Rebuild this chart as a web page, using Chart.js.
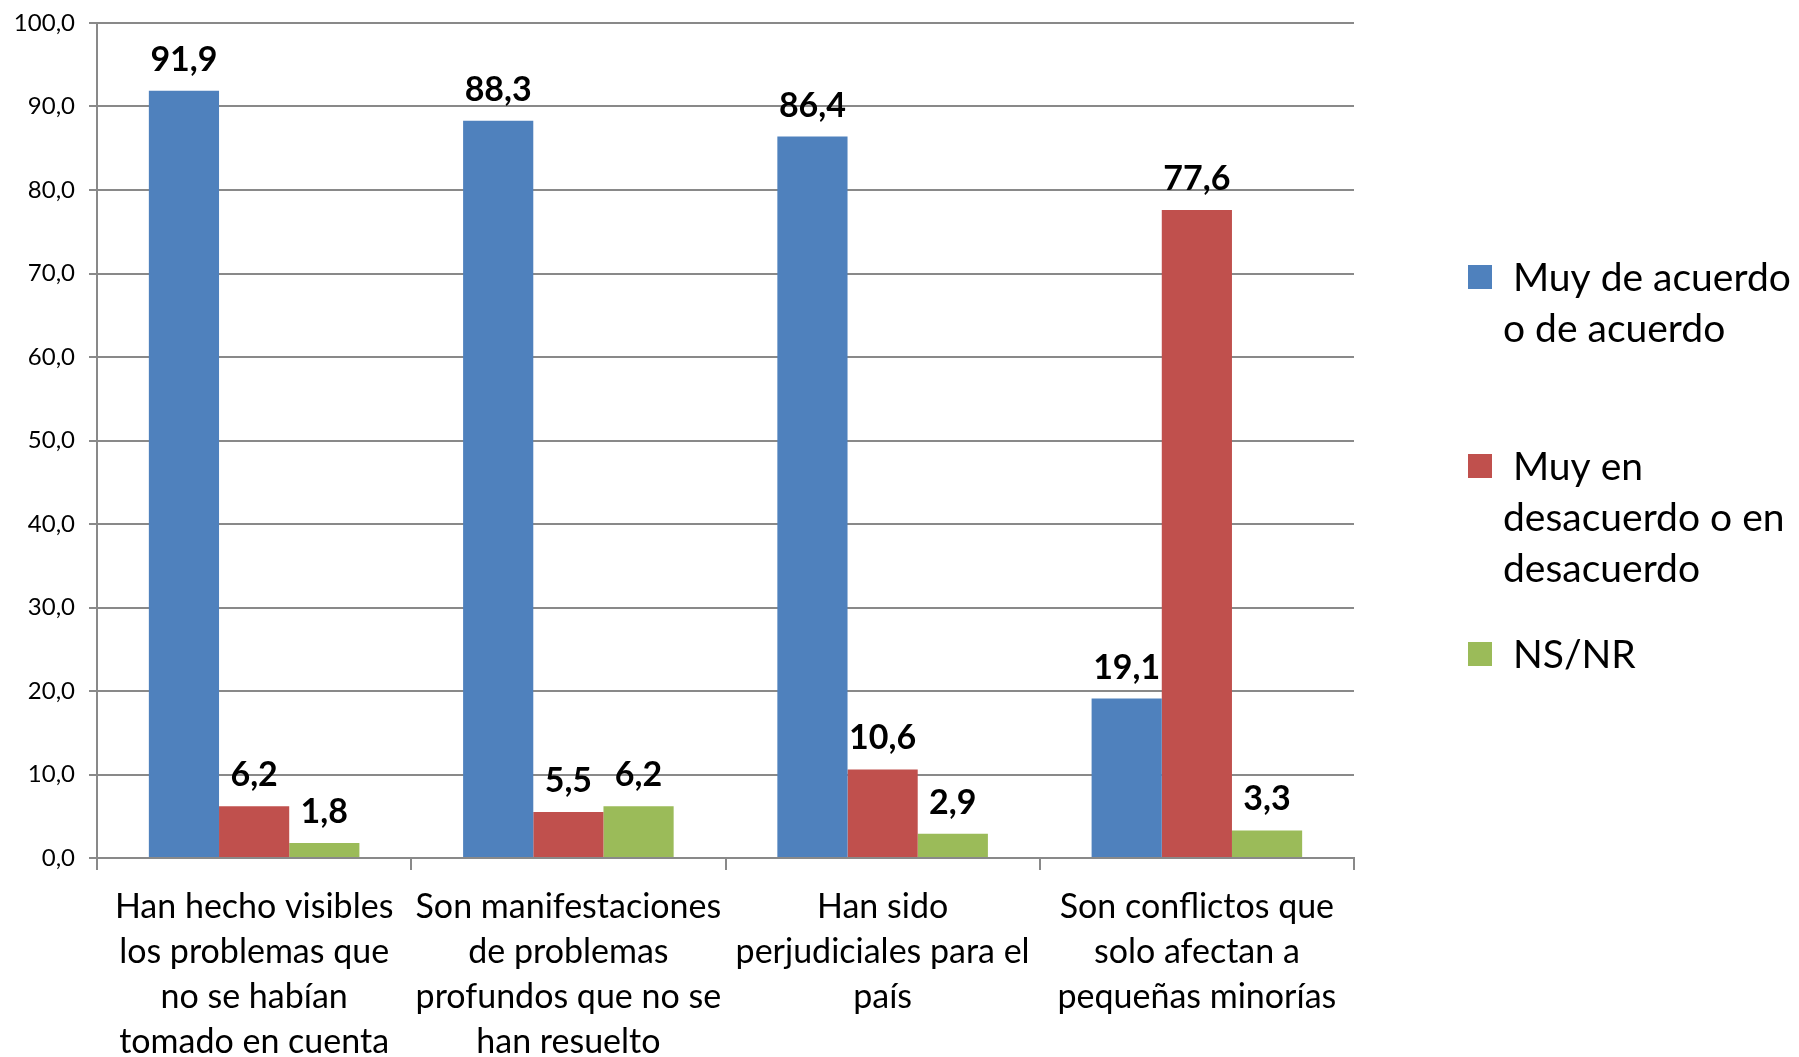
<!DOCTYPE html>
<html>
<head>
<meta charset="utf-8">
<script src="https://cdn.jsdelivr.net/npm/chart.js@4/dist/chart.umd.min.js"></script>
<style>
  body { margin: 0; background: #fff; }
  #wrap { width: 1799px; height: 1057px; }
</style>
</head>
<body>
<div id="wrap"><canvas id="barChart" width="1799" height="1057"></canvas></div>
<script>
const categories = [
  ["Han hecho visibles", "los problemas que", "no se habían", "tomado en cuenta"],
  ["Son manifestaciones", "de problemas", "profundos que no se", "han resuelto"],
  ["Han sido", "perjudiciales para el", "país"],
  ["Son conflictos que", "solo afectan a", "pequeñas minorías"]
];
const seriesNames = [
  ["Muy de acuerdo", "o de acuerdo"],
  ["Muy en", "desacuerdo o en", "desacuerdo"],
  ["NS/NR"]
];
const deAcuerdo = [91.9, 88.3, 86.4, 19.1];
const enDesacuerdo = [6.2, 5.5, 10.6, 77.6];
const nsnr = [1.8, 6.2, 2.9, 3.3];
const colors = ["#4F81BD", "#C0504D", "#9BBB59"];

const fmt = v => v.toFixed(1).replace('.', ',');
const gridColor = "#898989";
const fontFamily = "Lato, 'Open Sans', sans-serif";

// value labels above each bar
const valueLabels = {
  id: 'valueLabels',
  afterDatasetsDraw(chart) {
    const ctx = chart.ctx;
    ctx.save();
    ctx.font = "bold 34px " + fontFamily;
    ctx.fillStyle = "#000";
    ctx.textAlign = "center";
    ctx.textBaseline = "alphabetic";
    chart.data.datasets.forEach((ds, i) => {
      chart.getDatasetMeta(i).data.forEach((bar, j) => {
        ctx.fillText(fmt(ds.data[j]), bar.x, bar.y - 20);
      });
    });
    ctx.restore();
  }
};

// legend on the right, with wrapped lines
const sideLegend = {
  id: 'sideLegend',
  afterDraw(chart) {
    const ctx = chart.ctx;
    const tops = [265, 454, 642];
    ctx.save();
    ctx.font = "39px " + fontFamily;
    ctx.textAlign = "left";
    ctx.textBaseline = "alphabetic";
    seriesNames.forEach((lines, i) => {
      ctx.fillStyle = colors[i];
      ctx.fillRect(1468, tops[i], 24, 24);
      ctx.fillStyle = "#000";
      lines.forEach((line, k) => {
        ctx.fillText(line, k === 0 ? 1513 : 1503, tops[i] + 26 + k * 51);
      });
    });
    ctx.restore();
  }
};

const graph = document.getElementById('barChart');
const barChart = new Chart(graph, {
  type: "bar",
  data: {
    labels: categories,
    datasets: [
      { label: seriesNames[0].join(' '), data: deAcuerdo, backgroundColor: colors[0] },
      { label: seriesNames[1].join(' '), data: enDesacuerdo, backgroundColor: colors[1] },
      { label: seriesNames[2].join(' '), data: nsnr, backgroundColor: colors[2] }
    ]
  },
  options: {
    responsive: false,
    animation: false,
    layout: { padding: { top: 23, right: 445, left: 0, bottom: 0 } },
    categoryPercentage: 0.67,
    barPercentage: 1,
    plugins: {
      legend: { display: false },
      tooltip: { enabled: false }
    },
    scales: {
      x: {
        grid: {
          offset: true,
          drawOnChartArea: false,
          drawTicks: true,
          tickLength: 12,
          color: gridColor,
          lineWidth: 2
        },
        border: { color: gridColor, width: 2 },
        ticks: {
          color: "#000",
          padding: 15,
          maxRotation: 0,
          autoSkip: false,
          font: { family: fontFamily, size: 34, lineHeight: 1.32 }
        },
        afterFit(scale) { scale.height = 199; }
      },
      y: {
        min: 0,
        max: 100,
        grid: { color: gridColor, lineWidth: 2, tickLength: 8 },
        border: { color: gridColor, width: 2 },
        ticks: {
          stepSize: 10,
          color: "#000",
          padding: 14,
          font: { family: fontFamily, size: 24 },
          callback: v => fmt(v)
        },
        afterFit(scale) {
          scale.width = 97;
          scale.paddingTop = 0;
          scale.paddingBottom = 0;
        }
      }
    }
  },
  plugins: [valueLabels, sideLegend]
});
</script>
</body>
</html>
